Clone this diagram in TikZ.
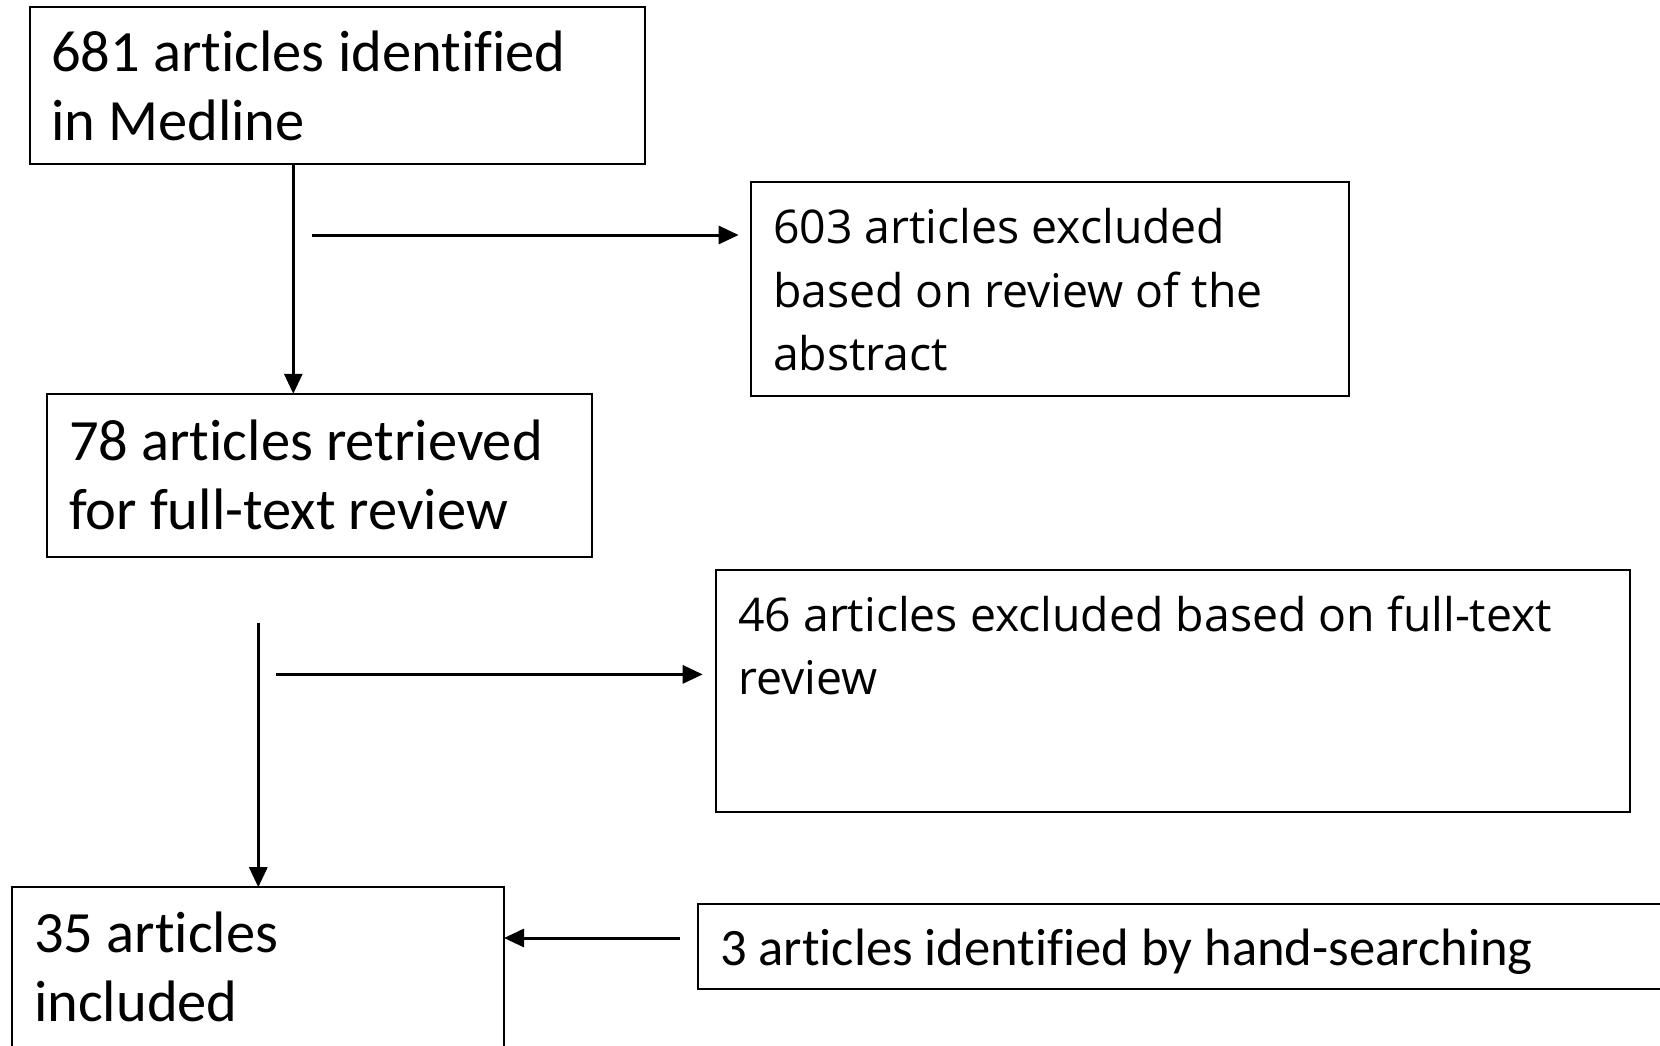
\documentclass[tikz,border=0pt]{standalone}
\usepackage{fontspec}
\usepackage{tikz}
\usetikzlibrary{arrows.meta, calc, positioning}
\newfontfamily\calfont[Ligatures=NoCommon]{Carlito}
\newfontfamily\opfont{Open Sans}

\begin{document}
\begin{tikzpicture}[x=1pt, y=-1pt,
    box/.style={draw, line width=2pt, rectangle, anchor=north west, inner sep=0pt, outer sep=0pt},
    txtc/.style={anchor=base west, inner sep=0pt, align=left, font=\calfont\fontsize{58.5}{69}\selectfont},
    txto/.style={anchor=base west, inner sep=0pt, align=left, font=\opfont\fontsize{46.4}{63.5}\selectfont},
    flow/.style={line width=3pt, -{Triangle[length=20pt, width=18pt]}}]
                    \clip (0, 0) rectangle (1660, 1046);

                    \node[box, minimum width=615.2pt, minimum height=156.7pt] (Bmed) at (29.6, 7.4) {};
                    \node[box, minimum width=598.2pt, minimum height=213.9pt] (Babs) at (750.6, 182.1) {};
                    \node[box, minimum width=545.2pt, minimum height=163.1pt] (Bret) at (46.6, 393.8) {};
                    \node[box, minimum width=914.7pt, minimum height=242.4pt] (Bfull) at (715.7, 569.6) {};
                    \node[box, minimum width=492.4pt, minimum height=200pt] (Binc) at (11.6, 887.2) {};
                    \node[box, minimum width=1000pt, minimum height=84.7pt] (Bhand) at (697.7, 904.1) {};

                    % base anchor sits on the last line
                    \node[txtc] (Lmed) at (50.8, 140.8) {681 articles identified\\in Medline};
                    \node[txto] (Labs) at (772.9, 370.5) {603 articles excluded\\based on review of the\\abstract};
                    \node[txtc] (Lret) at (68.8, 529.3) {78 articles retrieved\\for full-text review};
                    \node[txto] (Lfull) at (737.9, 694.5) {46 articles excluded based on full-text\\review};
                    \node[txtc] (Linc) at (33.9, 1021.6) {35 articles\\included};
                    \node[txtc, font=\calfont\fontsize{52.6}{62}\selectfont] (Lhand) at (720, 965.5) {3 articles identified by hand-searching};

                    \coordinate (T1) at (293.3, 164.1);
                    \coordinate (H1) at (312, 235);
                    \coordinate (T2) at (258.3, 622.5);
                    \coordinate (H2) at (276.3, 674.4);
                    \coordinate (H3) at (679.7, 938);

                    \draw[flow] (T1) -- (T1 |- Bret.north);
                    \draw[flow] (H1) -- ([xshift=-12pt] Babs.west |- H1);
                    \draw[flow] (T2) -- (T2 |- Binc.north);
                    \draw[flow] (H2) -- ([xshift=-13pt] Bfull.west |- H2);
                    \draw[flow] (H3) -- (H3 -| Binc.east);
\end{tikzpicture}
\end{document}
